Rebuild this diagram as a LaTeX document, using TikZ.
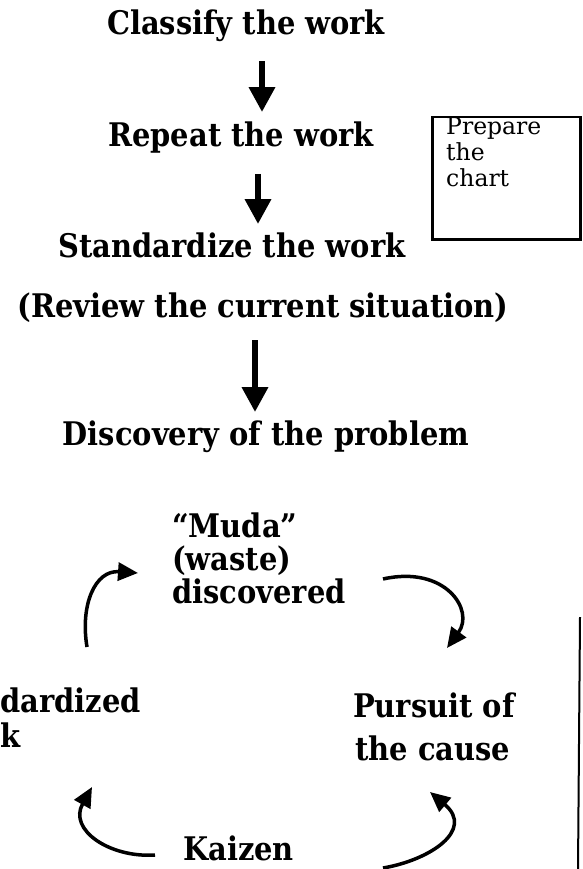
\documentclass[tikz,border=0pt]{standalone}
\usepackage{fontspec}
\setmainfont{DejaVu Serif}
\newfontfamily\hdfont[FakeStretch=0.89]{DejaVu Serif}
\usetikzlibrary{arrows.meta}
\begin{document}
\begin{tikzpicture}[x=1pt,y=-1pt,
  lbl/.style={font=\hdfont\bfseries\fontsize{32.5}{33}\selectfont, inner sep=0pt},
  boxtxt/.style={font=\fontsize{23.5}{26}\selectfont, inner sep=0pt, align=left},
  bigarrow/.style={line width=6.5pt, -{Triangle[width=25pt,length=25pt]}},
  cyc/.style={line width=3.5pt, -{Triangle[width=18pt,length=20pt]}}]
\useasboundingbox (0,0) rectangle (582,869);
% main column
\node[lbl, anchor=base] (classify) at (246,35) {Classify the work};
\node[lbl, anchor=base] (repeat) at (241,147) {Repeat the work};
\node[lbl, anchor=base] (standardize) at (232,257) {Standardize the work};
\node[lbl, anchor=base] (review) at (263,317) {(Review the current situation)};
\node[lbl, anchor=base] (discovery) at (266,445) {Discovery of the problem};
\coordinate (ax1) at (262,0);
\coordinate (ax2) at (258,0);
\coordinate (ax3) at (255,0);
\draw[bigarrow, shorten <=19pt, shorten >=10pt] (classify.south -| ax1) -- (repeat.north -| ax1);
\draw[bigarrow, shorten <=20pt, shorten >=8pt] (repeat.south -| ax2) -- (standardize.north -| ax2);
\draw[bigarrow, shorten <=18pt, shorten >=8pt] (review.south -| ax3) -- (discovery.north -| ax3);
% chart box
\node[draw, line width=2.5pt, minimum width=148pt, minimum height=122pt, anchor=north west, inner sep=0pt] (chartbox) at (431,116) {};
\node[boxtxt, anchor=north west] (chart) at (446,117) {Prepare\\the\\chart};
% cycle
\node[lbl, anchor=north west, align=left] (muda) at (172,513) {“Muda”\\(waste)\\discovered};
\node[lbl, anchor=base west] (std1) at (0,712) {dardized};
\node[lbl, anchor=base west] (std2) at (0,747) {k};
\node[lbl, anchor=base west] (pursuit) at (353,717) {Pursuit of};
\node[lbl, anchor=base west] (cause) at (355,760) {the cause};
\node[lbl, anchor=base west] (kaizen) at (183,860) {Kaizen};
\coordinate (c1s) at (87,647);  \coordinate (c1e) at (138,573);
\coordinate (c2s) at (383,579); \coordinate (c2e) at (447,648);
\coordinate (c3s) at (383,868); \coordinate (c3e) at (430,792);
\coordinate (c4s) at (155,855); \coordinate (c4e) at (92,787);
\draw[cyc] (c1s) .. controls (80,605) and (95,570) .. (c1e);
\draw[cyc] (c2s) .. controls (445,565) and (475,610) .. (c2e);
\draw[cyc] (c3s) .. controls (430,860) and (475,830) .. (c3e);
\draw[cyc] (c4s) .. controls (110,858) and (68,830) .. (c4e);
% right edge line
\draw[line width=2pt] (580,617) -- (578,869);
\end{tikzpicture}
\end{document}
